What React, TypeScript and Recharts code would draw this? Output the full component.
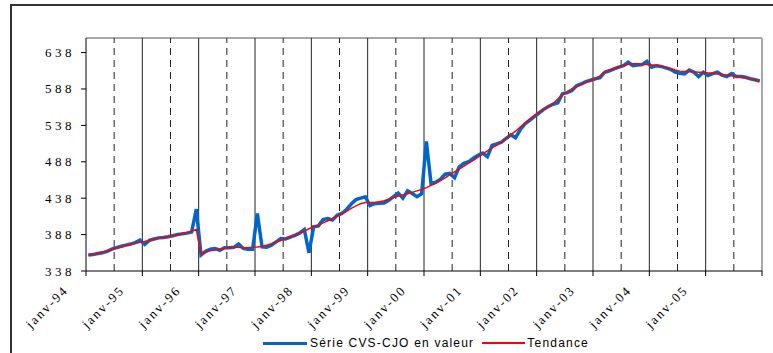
import { LineChart, Line, XAxis, YAxis, ReferenceLine } from 'recharts';

// Série mensuelle CVS-CJO en valeur, janv-94 à déc-05
const serie = [
  360, 360.5, 362, 363, 365, 368, 370, 372, 373.5, 375, 377, 380.5,
  374.5, 380, 382, 383.5, 384, 385, 386.5, 388, 389, 390, 391.5, 423,
  360, 365, 368, 369, 366.5, 370, 370, 370.5, 375, 369, 368, 368,
  417, 371, 370.5, 373.5, 378, 382.5, 382, 384.5, 387, 390, 395, 363,
  398.7, 400, 408.5, 410, 408, 414.5, 417, 422.5, 430, 436, 438, 440,
  428, 430.5, 431, 431.5, 435, 440, 445, 438, 448, 444.5, 440, 444,
  516, 458, 460, 464, 471, 472, 466, 481, 486, 488, 493, 497,
  500, 495, 510.6, 512.5, 515, 520, 525, 521, 532, 540, 545, 550,
  555, 560, 564, 567, 569, 581.5, 583, 586, 592.5, 595, 598, 600,
  602, 603.5, 611, 613, 615.6, 618, 620, 624.7, 620, 621, 621.6, 626,
  617.9, 620, 619, 617, 615, 611, 609.5, 608.8, 614, 611, 605, 611,
  606.5, 609, 611, 607, 605, 609, 605, 605, 604, 602, 600.6, 599,
];

// Tendance
const tendance = [
  360, 361, 362.5, 364, 365.5, 367.5, 369.5, 371, 373, 374.5, 376, 377.5,
  378.5, 380, 381.5, 383, 384, 385, 386.5, 388, 389.5, 391, 393, 395,
  362, 364, 366, 367, 368, 369, 370, 370.5, 370.5, 370, 370, 370.5,
  371, 372, 373.5, 375.5, 378, 380, 382.5, 385, 387.5, 390, 393, 396,
  398.5, 401, 404, 407, 410, 413.5, 416.5, 420, 424, 427.5, 430.5, 432,
  432, 432, 433, 434.5, 436.5, 439, 441, 442.5, 444, 446, 448, 450,
  452.5, 455.5, 458.5, 462, 466, 470, 474, 478, 482, 486, 490, 494.5,
  499, 503, 507, 511, 515, 520, 525, 530, 535.5, 541, 546.5, 551.5,
  556, 560, 563.5, 568, 574, 580, 584, 588, 591, 594, 597, 600,
  602, 606, 611, 614, 616.5, 618.5, 620, 622, 622.5, 622.5, 622, 621.5,
  621, 620.5, 619.5, 618, 616, 614, 612.5, 612, 612, 611.5, 611, 610.5,
  610, 609.5, 609, 608, 607, 606, 605, 604, 603, 602, 600.5, 599,
];

const yearLabels = [
  'janv-94', 'janv-95', 'janv-96', 'janv-97', 'janv-98', 'janv-99',
  'janv-00', 'janv-01', 'janv-02', 'janv-03', 'janv-04', 'janv-05',
];

const yTicks = [338, 388, 438, 488, 538, 588, 638];

const data = serie.map((v, i) => ({ t: i + 0.5, serie: v, tendance: tendance[i] }));

const yearTicks = Array.from({ length: 13 }, (_, k) => k * 12);
const midTicks = Array.from({ length: 12 }, (_, k) => k * 12 + 6);

const serif = '"Liberation Serif", "Times New Roman", serif';
const sans = '"Liberation Sans", Arial, sans-serif';

// étiquettes de l'axe des x, inclinées à 45°
const XTick = ({ x, y, payload }: { x?: number; y?: number; payload?: { value: number } }) => {
  const label = yearLabels[Math.round((payload?.value ?? 0) / 12)];
  if (!label) return null;
  const ax = (x ?? 0) - 17;
  const ay = (y ?? 0) + 13;
  return (
    <text
      x={ax}
      y={ay}
      textAnchor="end"
      transform={`rotate(-45, ${ax}, ${ay})`}
      style={{ fontFamily: serif, fontSize: 13, letterSpacing: 2, fill: '#000' }}
    >
      {label}
    </text>
  );
};

const YTick = ({ x, y, payload }: { x?: number; y?: number; payload?: { value: number } }) => (
  <text
    x={(x ?? 0) - 4}
    y={(y ?? 0) + 4.5}
    textAnchor="end"
    style={{ fontFamily: serif, fontSize: 13, letterSpacing: 3.5, fill: '#000' }}
  >
    {payload?.value}
  </text>
);

export default function App() {
  return (
    <div style={{ position: 'absolute', left: 0, top: 0, width: 773, height: 353, overflow: 'hidden', background: '#fff' }}>
      <div
        style={{
          position: 'absolute',
          left: 10,
          top: 4,
          width: 780,
          height: 360,
          borderTop: '2px solid #333',
          borderLeft: '2px solid #333',
        }}
      />
      <div style={{ position: 'absolute', left: 0, top: 0 }}>
        <LineChart width={773} height={353} data={data} margin={{ top: 38, right: 11, bottom: 0, left: 0 }}>
          <XAxis
            type="number"
            dataKey="t"
            domain={[0, 144]}
            ticks={yearTicks}
            interval={0}
            height={82}
            axisLine={{ stroke: '#000' }}
            tickLine={{ stroke: '#000' }}
            tickSize={5}
            tick={<XTick />}
          />
          <YAxis
            type="number"
            domain={[338, 658]}
            ticks={yTicks}
            interval={0}
            width={86}
            axisLine={{ stroke: '#000' }}
            tickLine={{ stroke: '#000' }}
            tickSize={5}
            tick={<YTick />}
          />
          <ReferenceLine y={658} stroke="#a8a8a8" strokeWidth={2} />
          <ReferenceLine x={144} stroke="#a8a8a8" strokeWidth={2} />
          {yearTicks.slice(1, 12).map((v) => (
            <ReferenceLine key={`y${v}`} x={v} stroke="#222" strokeWidth={1} />
          ))}
          {midTicks.map((v) => (
            <ReferenceLine key={`m${v}`} x={v} stroke="#222" strokeWidth={1} strokeDasharray="7 5" />
          ))}
          <Line
            type="linear"
            dataKey="serie"
            name="Série CVS-CJO en valeur"
            stroke="#0066CC"
            strokeWidth={3.5}
            dot={false}
            isAnimationActive={false}
          />
          <Line
            type="linear"
            dataKey="tendance"
            name="Tendance"
            stroke="#FF0000"
            strokeWidth={1.5}
            dot={false}
            isAnimationActive={false}
          />
        </LineChart>
      </div>
      <div
        style={{
          position: 'absolute',
          left: 263,
          top: 335,
          height: 16,
          display: 'flex',
          alignItems: 'center',
          fontFamily: sans,
          fontSize: 12,
          letterSpacing: 1.2,
          color: '#000',
          whiteSpace: 'nowrap',
        }}
      >
        <span style={{ display: 'inline-block', width: 44, height: 3, background: '#0066CC', marginRight: 3 }} />
        <span>Série CVS-CJO en valeur</span>
        <span style={{ display: 'inline-block', width: 43, height: 2, background: '#FF0000', marginLeft: 8, marginRight: 2 }} />
        <span>Tendance</span>
      </div>
    </div>
  );
}
